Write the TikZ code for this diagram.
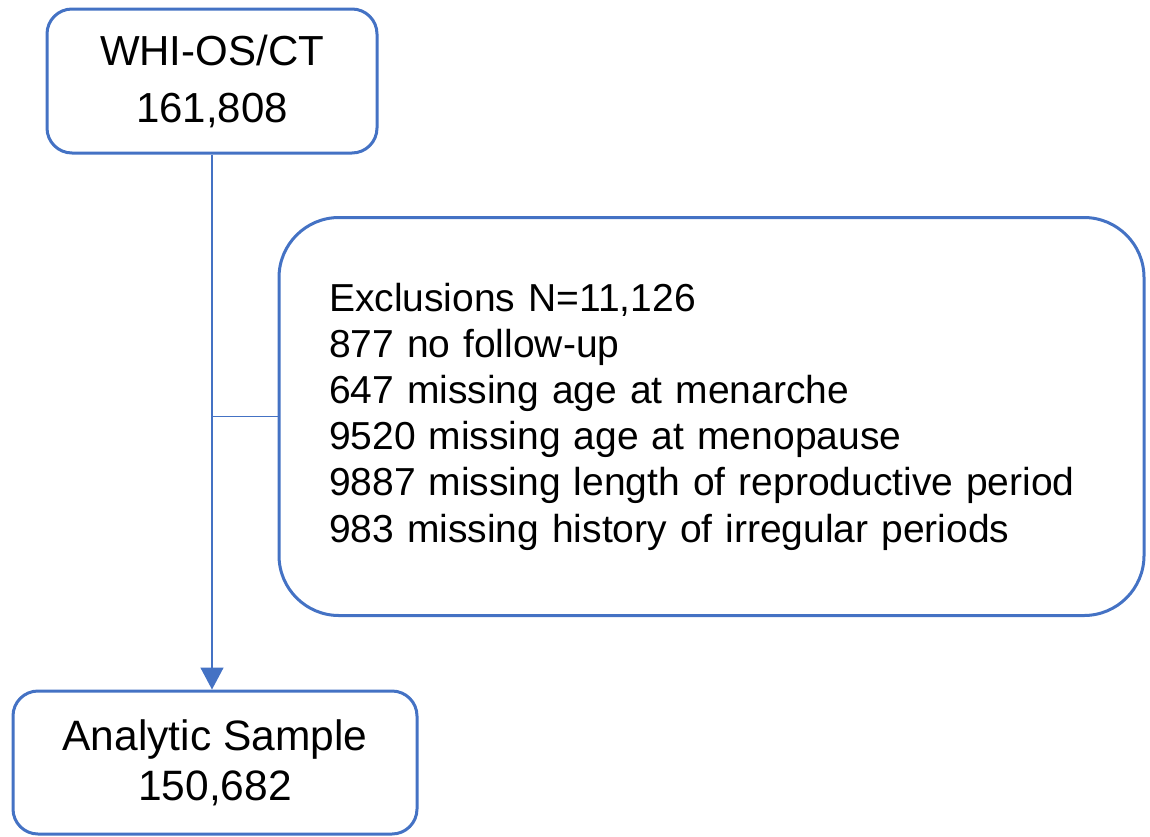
\documentclass[tikz,border=0pt]{standalone}
\usepackage{fontspec}
\setmainfont{Liberation Sans}
\usetikzlibrary{arrows.meta}
\definecolor{boxblue}{HTML}{4472C4}
\tikzset{
  flowbox/.style={draw=boxblue, line width=3pt, fill=white, rounded corners=25pt, align=center, inner sep=0pt},
  bigbox/.style={draw=boxblue, line width=3pt, fill=white, rounded corners=60pt, align=left, inner sep=0pt},
  link/.style={draw=boxblue, line width=1.6pt},
  linkarrow/.style={link, -{Triangle[length=22pt, width=23pt]}}
}
\begin{document}
\begin{tikzpicture}[x=1pt, y=-1pt]
\useasboundingbox (0,0) rectangle (1150,836);
\node[flowbox, minimum width=330pt, minimum height=144pt,
      font=\fontsize{42pt}{57pt}\selectfont] (top) at (212,81) {WHI-OS/CT\\161,808};
\node[bigbox, minimum width=865pt, minimum height=398pt, text width=765pt,
      font=\fontsize{39pt}{46.2pt}\selectfont] (excl) at (711.5,416.5)
  {Exclusions N=11,126\\877 no follow-up\\647 missing age at menarche\\9520 missing age at menopause\\9887 missing length of reproductive period\\983 missing history of irregular periods};
\node[flowbox, minimum width=404pt, minimum height=143pt,
      font=\fontsize{42.5pt}{50pt}\selectfont] (bottom) at (215,762.5) {Analytic Sample\\150,682};
\coordinate (junction) at (top.south |- excl.west);
\draw[linkarrow] (top.south) -- (top.south |- bottom.north);
\draw[link] (junction) -- (excl.west);
\end{tikzpicture}
\end{document}
